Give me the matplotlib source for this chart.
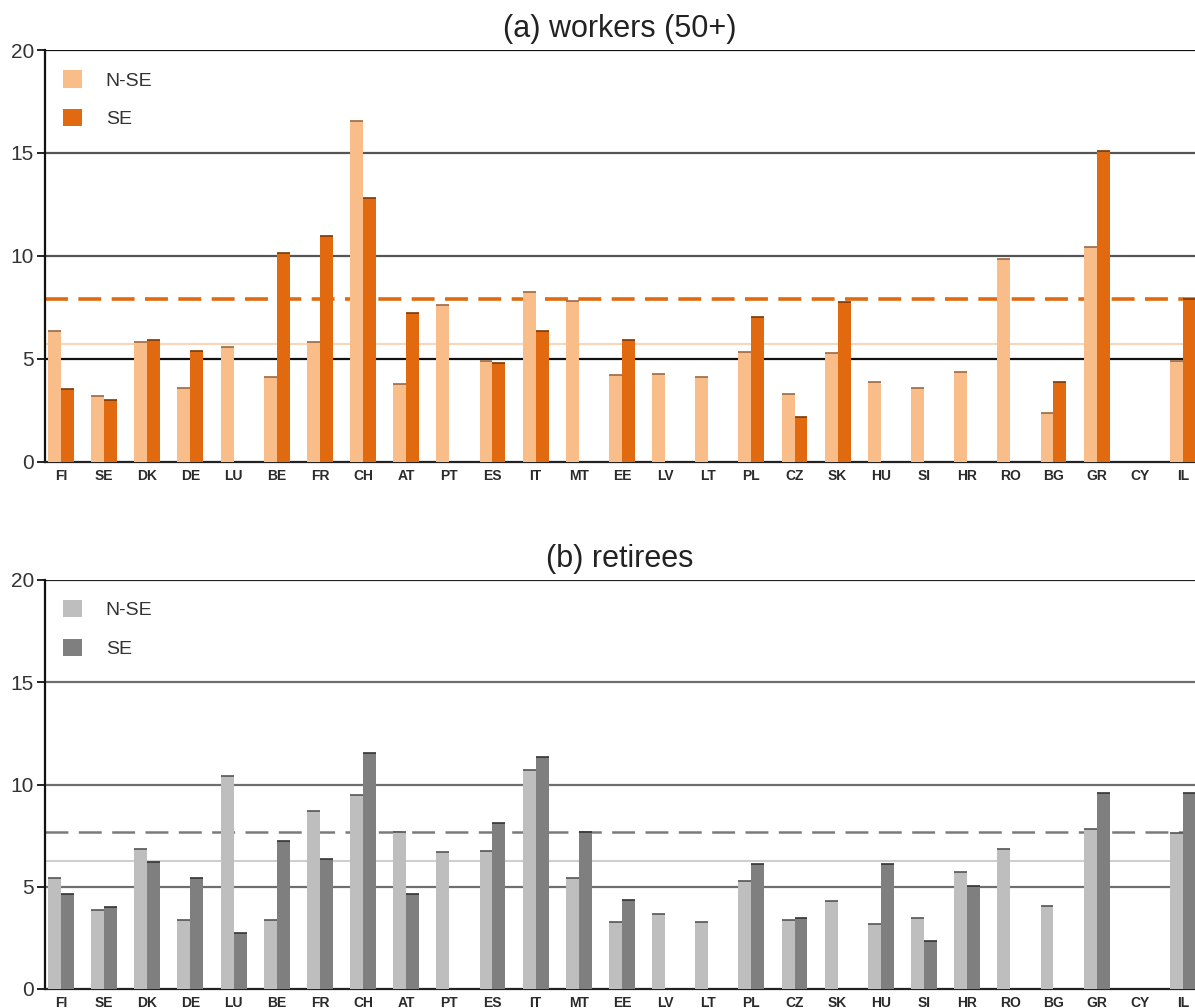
import numpy as np
import matplotlib
matplotlib.use("Agg")
import matplotlib.pyplot as plt

countries = ["FI", "SE", "DK", "DE", "LU", "BE", "FR", "CH", "AT", "PT", "ES", "IT",
             "MT", "EE", "LV", "LT", "PL", "CZ", "SK", "HU", "SI", "HR", "RO", "BG",
             "GR", "CY", "IL"]

nan = np.nan
# (a) workers aged 50+
workers_nse = [6.35, 3.19, 5.80, 3.60, 5.55, 4.13, 5.83, 16.55, 3.76, 7.61, 4.89, 8.23,
               7.81, 4.23, 4.24, 4.13, 5.34, 3.29, 5.26, 3.89, 3.56, 4.34, 9.83, 2.38,
               10.41, nan, 4.89]
workers_se = [3.51, 3.00, 5.91, 5.38, nan, 10.15, 10.96, 12.83, 7.21, nan, 4.81, 6.35,
              nan, 5.91, nan, nan, 7.04, 2.19, 7.77, nan, nan, nan, nan, 3.85,
              15.11, nan, 7.89]
workers_avg_nse = 5.72
workers_avg_se = 7.90

# (b) retirees
retirees_nse = [5.44, 3.86, 6.85, 3.37, 10.42, 3.37, 8.72, 9.47, 7.66, 6.72, 6.75, 10.71,
                5.44, 3.29, 3.67, 3.28, 5.26, 3.37, 4.32, 3.18, 3.49, 5.74, 6.85, 4.07,
                7.81, nan, 7.61]
retirees_se = [4.63, 4.03, 6.19, 5.44, 2.72, 7.24, 6.36, 11.54, 4.65, nan, 8.10, 11.33,
               7.66, 4.35, nan, nan, 6.11, 3.46, nan, 6.11, 2.35, 5.05, nan, nan,
               9.57, nan, 9.57]
retirees_avg_nse = 6.28
retirees_avg_se = 7.66

series_labels = ["N-SE", "SE"]
yticks = [0, 5, 10, 15, 20]

W, H = 1195, 1008
fig = plt.figure(figsize=(W / 100, H / 100), dpi=100)
fig.patch.set_facecolor("white")

x = np.arange(len(countries))
bw = 0.30


def panel(ax, title, nse, se, avg_nse, avg_se, c_light, c_dark, top_light, top_dark,
          avg_light_col, avg_dash_col, dash_lw, grid_cols):
    nse = np.asarray(nse, float)
    se = np.asarray(se, float)
    ax.set_xlim(-0.37, 26.28)
    ax.set_ylim(0, 20)

    # horizontal reference lines
    for yv, col in zip(yticks[1:], grid_cols):
        ax.axhline(yv, color=col, lw=1.6, zorder=1)
    ax.axhline(avg_nse, color=avg_light_col, lw=1.5, zorder=1)
    ax.axhline(avg_se, color=avg_dash_col, lw=dash_lw, zorder=1,
               linestyle=(0, (16.5 / dash_lw, 7.5 / dash_lw)))

    ax.bar(x - bw / 2, nse, width=bw, color=c_light, linewidth=0, zorder=3,
           label=series_labels[0])
    ax.bar(x + bw / 2, se, width=bw, color=c_dark, linewidth=0, zorder=3,
           label=series_labels[1])
    # thin darker cap on top of each bar
    ax.hlines(nse, x - bw, x, color=top_light, lw=1.2, zorder=4)
    ax.hlines(se, x, x + bw, color=top_dark, lw=1.2, zorder=4)

    for s in ["top", "right"]:
        ax.spines[s].set_visible(False)
    ax.spines["left"].set_color("#111111")
    ax.spines["left"].set_linewidth(1.6)
    ax.spines["bottom"].set_color("#222222")
    ax.spines["bottom"].set_linewidth(1.6)

    ax.set_yticks(yticks)
    ax.set_yticklabels([str(v) for v in yticks], fontsize=15, color="#333333",
                       family="Liberation Sans")
    ax.tick_params(axis="y", length=6, width=1.3, color="#111111", pad=2)
    ax.set_xticks(x)
    ax.set_xticklabels(countries, fontsize=10, fontweight="bold", color="#2a2a2a",
                       family="Liberation Sans")
    ax.tick_params(axis="x", length=0, pad=5)

    ax.set_title(title, fontsize=22, color="#222222", family="Liberation Sans", pad=9)

    leg = ax.legend(loc="upper left", bbox_to_anchor=(0.0157, 0.951), frameon=False,
                    prop={"family": "Liberation Sans", "size": 14},
                    handlelength=1.0, handleheight=1.0, handletextpad=1.2,
                    labelspacing=1.0, borderaxespad=0, borderpad=0)
    for t in leg.get_texts():
        t.set_color("#333333")


left = 45 / W
ax1 = fig.add_axes([left, 1 - 461.7 / H, 1 - left, 411.7 / H])
ax2 = fig.add_axes([left, 1 - 989 / H, 1 - left, 409 / H])

panel(ax1, "(a) workers (50+)", workers_nse, workers_se, workers_avg_nse, workers_avg_se,
      "#F8BD88", "#E1690F", "#9a6a44", "#7a3a08",
      "#F9D6B8", "#E1690F", 2.6, ["#111111", "#555555", "#555555", "#111111"])
panel(ax2, "(b) retirees", retirees_nse, retirees_se, retirees_avg_nse, retirees_avg_se,
      "#BEBEBE", "#7F7F7F", "#555555", "#333333",
      "#CFCFCF", "#7A7A7A", 1.8, ["#6E6E6E", "#6E6E6E", "#6E6E6E", "#222222"])

fig.savefig("out.png", dpi=100, facecolor="white")
